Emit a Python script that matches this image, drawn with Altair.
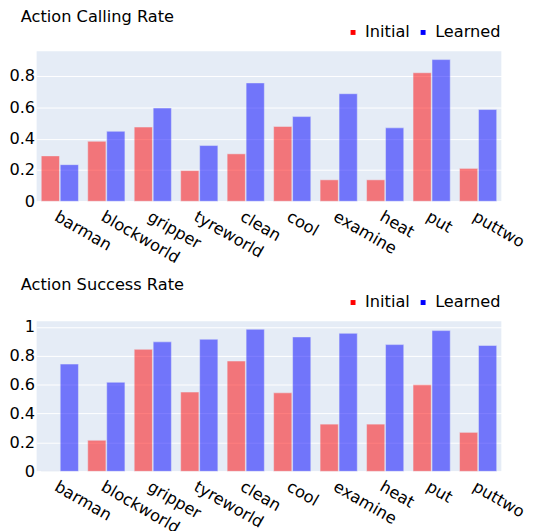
import altair as alt
import pandas as pd

categories = ["barman", "blockworld", "gripper", "tyreworld", "clean",
              "cool", "examine", "heat", "put", "puttwo"]
series = ["Initial", "Learned"]

calling_initial = [0.29, 0.383, 0.474, 0.196, 0.303, 0.478, 0.137, 0.137, 0.821, 0.21]
calling_learned = [0.234, 0.447, 0.596, 0.356, 0.756, 0.541, 0.687, 0.469, 0.905, 0.586]

success_initial = [0.0, 0.215, 0.845, 0.549, 0.764, 0.544, 0.327, 0.327, 0.599, 0.27]
success_learned = [0.743, 0.617, 0.897, 0.915, 0.984, 0.931, 0.956, 0.878, 0.975, 0.872]

calling_ticks = [0, 0.2, 0.4, 0.6, 0.8]
success_ticks = [0, 0.2, 0.4, 0.6, 0.8, 1]

FONT = "DejaVu Sans"
FS = 16.4


def make_df(init, learned):
    rows = []
    for c, a, b in zip(categories, init, learned):
        rows.append({"category": c, "series": "Initial", "value": a})
        rows.append({"category": c, "series": "Learned", "value": b})
    return pd.DataFrame(rows)


def panel(df, title, ymax, ticks, tdy):
    return alt.Chart(df, title=alt.TitleParams(
        title, anchor="start", frame="group", dx=-16, dy=tdy, fontSize=FS,
        font=FONT, fontWeight="normal", color="#000")).mark_bar(
        opacity=0.5, stroke="#E5ECF6", strokeWidth=0.5
    ).encode(
        x=alt.X("category:N", sort=categories, title=None,
                scale=alt.Scale(paddingInner=0.2, paddingOuter=0.1),
                axis=alt.Axis(labelAngle=30, labelAlign="left", labelBaseline="top",
                              labelPadding=7, ticks=False, domain=False, grid=False,
                              labelFontSize=FS, labelFont=FONT, labelColor="#000")),
        xOffset=alt.XOffset("series:N", sort=series,
                            scale=alt.Scale(paddingInner=0.04, paddingOuter=0)),
        y=alt.Y("value:Q", title=None,
                scale=alt.Scale(domain=[0, ymax], nice=False, zero=True),
                axis=alt.Axis(values=ticks, format=".1~f", ticks=False, domain=False,
                              labelPadding=2, gridColor="white", gridWidth=1,
                              labelFontSize=FS, labelFont=FONT, labelColor="#000")),
        color=alt.Color("series:N", sort=series,
                        scale=alt.Scale(domain=series, range=["red", "blue"]),
                        legend=alt.Legend(title=None, orient="none", direction="horizontal",
                                          legendX=312.5, legendY=-27.5, padding=0,
                                          symbolType="square", symbolSize=25,
                                          symbolOpacity=1, symbolStrokeWidth=0,
                                          labelOffset=4, columnPadding=5,
                                          labelFontSize=FS, labelFont=FONT,
                                          labelColor="#000")),
    ).properties(width=471, height=152)


top = panel(make_df(calling_initial, calling_learned), "Action Calling Rate", 0.958, calling_ticks, 5)
bottom = panel(make_df(success_initial, success_learned), "Action Success Rate", 1.039, success_ticks, 3)

chart = alt.vconcat(top, bottom, spacing=121.7, bounds="flush").resolve_scale(
    color="independent", y="independent", x="independent"
).resolve_legend(color="independent").properties(
    padding={"left": 0, "top": -2.7, "right": 0, "bottom": 0}
).configure_view(fill="#E5ECF6", stroke=None)

chart.save("out.html", embed_options={"renderer": "svg", "actions": False})
